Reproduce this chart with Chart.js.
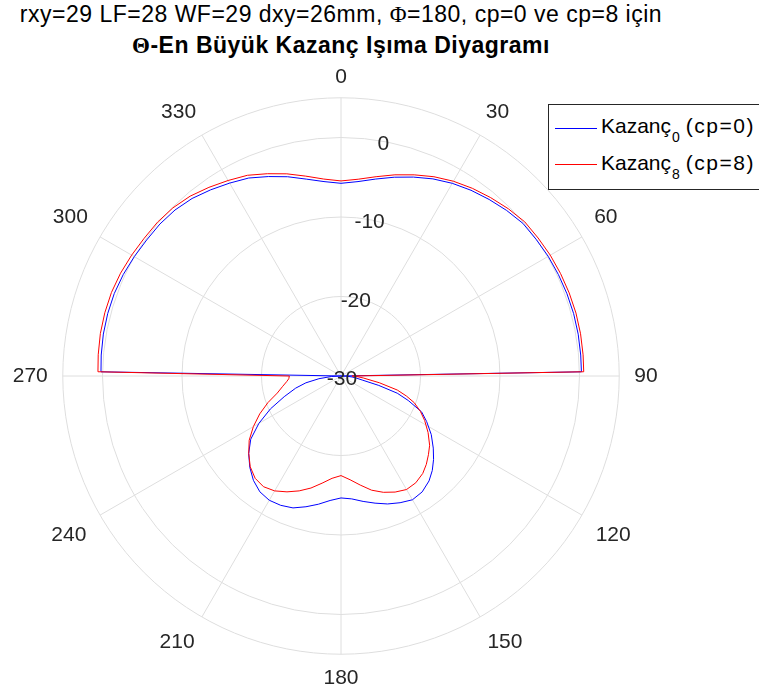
<!DOCTYPE html>
<html><head><meta charset="utf-8">
<script src="https://cdn.jsdelivr.net/npm/chart.js@4.4.1/dist/chart.umd.min.js"></script>
<style>
html,body{margin:0;padding:0;background:#fff;}
body{width:759px;height:694px;position:relative;overflow:hidden;font-family:"Liberation Sans",Arial,sans-serif;}
#c{position:absolute;left:-39px;top:0;}
.t{position:absolute;left:0;width:682px;text-align:center;color:#000;white-space:nowrap;line-height:24px;letter-spacing:0.5px;}
#t1{top:2px;font-size:23px;}
#t2{top:33px;font-size:23px;font-weight:bold;}
.g{font-family:"Liberation Serif","Times New Roman",serif;}
#lg{position:absolute;left:548px;top:104px;width:230px;height:86px;border:1px solid #262626;background:#fff;box-sizing:border-box;}
.le{position:absolute;left:52px;font-size:21px;line-height:21px;color:#000;white-space:nowrap;}
.le .sb{font-size:14px;position:relative;top:9px;margin-left:1px;}
.le .pr{margin-left:6px;letter-spacing:1.5px;}
.ln{position:absolute;left:6px;width:42px;height:1px;}
</style></head>
<body>
<div class="t" id="t1">rxy=29 LF=28 WF=29 dxy=26mm, <span class="g">Φ</span>=180, cp=0 ve cp=8 için</div>
<div class="t" id="t2"><span class="g">Θ</span>-En Büyük Kazanç Işıma Diyagramı</div>
<canvas id="c" width="760" height="694"></canvas>
<div id="lg">
  <div class="ln" style="top:23px;background:#0000ff"></div>
  <div class="le" style="top:10px">Kazanç<span class="sb">0</span><span class="pr">(cp=0)</span></div>
  <div class="ln" style="top:59px;background:#ff0000"></div>
  <div class="le" style="top:47px">Kazanç<span class="sb">8</span><span class="pr">(cp=8)</span></div>
</div>
<script>
// Angular categories: one per degree (0..359), theta measured clockwise from top
const angleCategories = Array.from({length: 360}, (_, i) => String(i));
const angleTickStep = 30;            // labelled angles: 0, 30, ..., 330
const ringValues = [-30, -20, -10, 0, 5];
const rTickLabels = [-30, -20, -10, 0];
const rMin = -30, rMax = 5;

// Kazanç0 (cp=0) — sampled angles (deg) and gain (dB)
const blueAngles = [0,5,10,15,20,25,30,35,40,45,50,55,60,65,70,75,80,85,89,
  90,92,95,98,101,104,107,110,114,118,123,128,132,136,140,145,150,155,160,165,170,175,180,
  185,190,195,200,205,210,215,220,225,230,235,240,245,250,255,259,263,267,270,
  271,275,280,285,290,295,300,305,310,315,320,325,330,335,340,345,350,355];
const blueGain = [-5.76,-5.45,-4.84,-4.11,-3.37,-2.64,-2.01,-1.48,-1.01,-0.54,-0.13,-0.03,0.10,0.18,0.25,0.30,0.30,0.27,0.25,
  -30,-29.3,-28.6,-28.0,-27.2,-25.1,-22.6,-21.0,-18.9,-17.8,-16.46,-15.27,-14.33,-13.47,-12.77,-12.2,-12.02,-12.41,-12.87,-13.44,-13.98,-14.48,-14.66,
  -14.28,-13.62,-12.97,-12.34,-12.05,-11.95,-12.21,-12.86,-13.77,-14.84,-16.14,-18.07,-20.2,-22.4,-24.1,-25.5,-27.2,-28.8,-30,
  0.20,0.28,0.36,0.38,0.35,0.22,0.03,-0.16,-0.26,-0.47,-0.85,-1.41,-1.98,-2.52,-3.30,-4.05,-4.85,-5.45];

// Kazanç8 (cp=8)
const redAngles = [0,5,10,15,20,25,30,35,40,45,50,55,60,65,70,75,80,85,89,
  90,92,95,100,104,107,110,114,118,123,128,132,136,140,145,150,155,160,165,170,175,180,
  185,190,195,200,205,210,215,220,225,230,235,240,245,250,255,260,264,267,270,
  271,275,280,285,290,295,300,305,310,315,320,325,330,335,340,345,350,355];
const redGain = [-5.46,-5.15,-4.54,-3.80,-3.07,-2.34,-1.71,-1.18,-0.71,-0.24,0.17,0.27,0.40,0.48,0.55,0.60,0.60,0.57,0.54,
  -28.6,-28.0,-27.2,-25.1,-22.7,-21.4,-20.2,-19.07,-18.08,-16.94,-15.85,-15.2,-14.55,-14.0,-13.6,-13.51,-13.89,-14.43,-15.13,-16.07,-16.9,-17.47,
  -17.08,-16.31,-15.41,-14.62,-13.92,-13.31,-13.0,-13.2,-13.85,-14.85,-15.9,-17.27,-18.72,-20.22,-21.7,-22.56,-23.12,-23.42,-23.5,
  0.58,0.66,0.74,0.76,0.73,0.60,0.41,0.22,0.12,-0.09,-0.47,-1.03,-1.60,-2.14,-2.92,-3.67,-4.47,-5.13];

function toTable(angles, gains) {
  const d = new Array(angleCategories.length).fill(null);
  angles.forEach((a, i) => { d[a] = gains[i]; });
  return d;
}

const rTickPlugin = {
  id: 'rTicks',
  afterDatasetsDraw(chart) {
    const s = chart.scales.r, ctx = chart.ctx;
    ctx.save();
    ctx.font = '21px "Liberation Sans", Arial, sans-serif';
    ctx.fillStyle = '#262626';
    ctx.textAlign = 'center';
    ctx.textBaseline = 'middle';
    rTickLabels.forEach(v => {
      const p = s.getPointPositionForValue(10, v);
      ctx.fillText(String(v), p.x + 1, p.y + 3);
    });
    ctx.restore();
  }
};

new Chart(document.getElementById('c'), {
  type: 'radar',
  data: {
    labels: angleCategories,
    datasets: [
      {label: 'Kazanç0 (cp=0)', data: toTable(blueAngles, blueGain), borderColor: '#0000ff', borderWidth: 1,
       pointRadius: 0, fill: false, spanGaps: true, tension: 0, order: 1, borderJoinStyle: 'round'},
      {label: 'Kazanç8 (cp=8)', data: toTable(redAngles, redGain), borderColor: '#ff0000', borderWidth: 1,
       pointRadius: 0, fill: false, spanGaps: true, tension: 0, order: 0, borderJoinStyle: 'round'}
    ]
  },
  options: {
    responsive: false, animation: false, devicePixelRatio: 1,
    layout: {padding: {top: 63, bottom: 1, left: 0, right: 0}},
    plugins: {legend: {display: false}, tooltip: {enabled: false}, title: {display: false}},
    scales: {
      r: {
        min: rMin, max: rMax, startAngle: 0,
        afterBuildTicks: s => { s.ticks = ringValues.map(v => ({value: v})); },
        ticks: {display: false},
        grid: {circular: true, color: '#dedede', lineWidth: 1},
        angleLines: {display: true, color: '#dedede', lineWidth: c => (c.index % angleTickStep === 0 ? 1 : 0)},
        pointLabels: {
          display: true,
          color: '#262626',
          font: {family: '"Liberation Sans", Arial, sans-serif', size: 21},
          padding: c => {
            const a = c.index * Math.PI / 180;
            const cs = Math.cos(a);
            return 8 + 7 * Math.abs(Math.sin(a)) + (cs < 0 ? 3.5 * Math.abs(cs) : 0);
          },
          callback: (l, i) => (i % angleTickStep === 0 ? l : '')
        }
      }
    }
  },
  plugins: [rTickPlugin]
});
</script>
</body></html>
